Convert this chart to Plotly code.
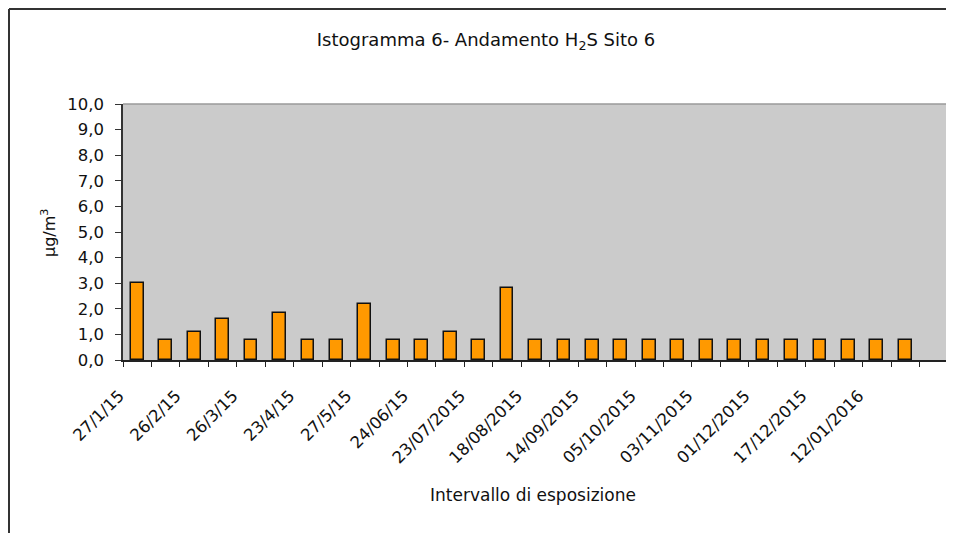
import plotly.graph_objects as go

# Data
values = [3.0, 0.8, 1.1, 1.6, 0.8, 1.85, 0.8, 0.8, 2.2, 0.8, 0.8, 1.1, 0.8, 2.8,
          0.8, 0.8, 0.8, 0.8, 0.8, 0.8, 0.8, 0.8, 0.8, 0.8, 0.8, 0.8, 0.8, 0.8]
tick_labels = ["27/1/15", "26/2/15", "26/3/15", "23/4/15", "27/5/15", "24/06/15",
               "23/07/2015", "18/08/2015", "14/09/2015", "05/10/2015", "03/11/2015",
               "01/12/2015", "17/12/2015", "12/01/2016"]
n_slots = 29

x_idx = list(range(len(values)))
tick_pos = [2 * i for i in range(len(tick_labels))]

FONT = "DejaVu Sans, Verdana, sans-serif"
INK = "#111111"

fig = go.Figure()
fig.add_trace(go.Bar(
    x=x_idx, y=values, width=0.45,
    marker=dict(color="#FF9900", line=dict(color="#111111", width=1.5)),
    hoverinfo="y",
))

# page body has an 8px margin: figure coords = window coords - 8
OFF = 8
W, H = 954 - OFF, 533 - OFF
L, T = 123 - OFF, 104 - OFF
pw, ph = 825, 256
R, B = W - L - pw, H - T - ph

def px_to_paper_x(px):
    return (px - OFF - L) / pw

def px_to_paper_y(py):
    return 1 - (py - OFF - T) / ph

# outer chart border sits at the very top-left edge of the figure
bx = (1 - L) / pw
by = 1 + (T - 1) / ph

fig.update_layout(
    width=W, height=H,
    margin=dict(l=L, r=R, t=T, b=B, autoexpand=False),
    paper_bgcolor="white",
    plot_bgcolor="#CBCBCB",
    separators=", ",
    showlegend=False,
    bargap=0,
    font=dict(family=FONT, color=INK, size=15),
    title=dict(
        text="Istogramma 6- Andamento H<sub>2</sub>S Sito 6",
        x=(486 - OFF) / W, xref="container", xanchor="center",
        y=1 - (40 - OFF) / H, yref="container", yanchor="middle",
        font=dict(family=FONT, size=18, color=INK),
    ),
    xaxis=dict(
        range=[-0.5, n_slots - 0.5], automargin=False,
        tickmode="array", tickvals=tick_pos, ticktext=tick_labels,
        tickangle=-45, ticks="", ticklen=0,
        ticklabelstandoff=18, ticklabelshift=-18,
        minor=dict(tick0=-0.5, dtick=1, ticks="outside", ticklen=5,
                   tickcolor="#222222", tickwidth=1),
        showline=True, linecolor="#222222", linewidth=1.5,
        showgrid=False, zeroline=False,
        tickfont=dict(family=FONT, size=16.5, color=INK),
    ),
    yaxis=dict(
        range=[0, 10], dtick=1, tick0=0, tickformat=".1f", automargin=False,
        ticks="outside", ticklen=6, tickcolor="#333333",
        ticklabelstandoff=8,
        showline=True, linecolor="#333333", linewidth=1.5,
        showgrid=False, zeroline=False,
        tickfont=dict(family=FONT, size=16.5, color=INK),
    ),
    annotations=[
        dict(text="Intervallo di esposizione", xref="paper", yref="paper",
             x=px_to_paper_x(533), y=px_to_paper_y(495),
             xanchor="center", yanchor="middle", showarrow=False,
             font=dict(family=FONT, size=17, color=INK)),
        dict(text="µg/m<sup>3</sup>", xref="paper", yref="paper",
             x=px_to_paper_x(48), y=px_to_paper_y(233), textangle=-90,
             xanchor="center", yanchor="middle", showarrow=False,
             font=dict(family=FONT, size=16, color=INK)),
    ],
    shapes=[
        # plot area top/right border
        dict(type="line", xref="paper", yref="paper", x0=0, x1=1, y0=1, y1=1,
             line=dict(color="#9A9A9A", width=1.5)),
        dict(type="line", xref="paper", yref="paper", x0=1, x1=1, y0=0, y1=1,
             line=dict(color="#9A9A9A", width=1.5)),
        # chart outer border (top and left; extends past right/bottom edges)
        dict(type="line", xref="paper", yref="paper",
             x0=bx, x1=px_to_paper_x(990), y0=by, y1=by,
             line=dict(color="#333333", width=2)),
        dict(type="line", xref="paper", yref="paper",
             x0=bx, x1=bx, y0=by, y1=px_to_paper_y(560),
             line=dict(color="#333333", width=2)),
    ],
)

fig.write_html("out.html")
